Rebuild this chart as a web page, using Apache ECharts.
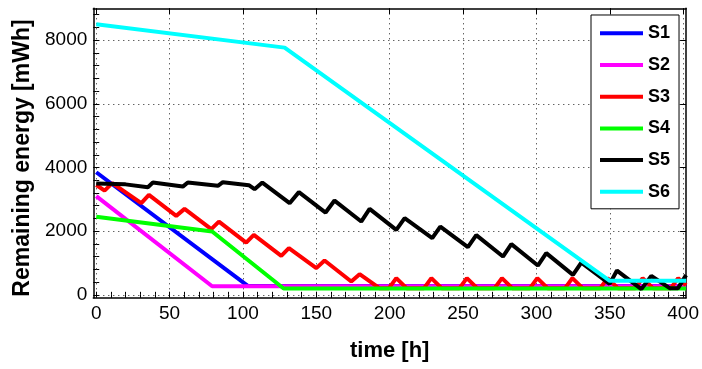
<!DOCTYPE html>
<html><head><meta charset="utf-8">
<script src="https://cdn.jsdelivr.net/npm/echarts@6/dist/echarts.min.js"></script>
<style>html,body{margin:0;padding:0;background:#fff}#c{width:702px;height:369px}</style>
</head><body><div id="c"></div>
<script>
const FONT = "'Liberation Sans', Arial, sans-serif";
const xTicks = [0, 50, 100, 150, 200, 250, 300, 350, 400];
const yTicks = [0, 2000, 4000, 6000, 8000];
const seriesNames = ['S1', 'S2', 'S3', 'S4', 'S5', 'S6'];
const seriesColors = ['#0000ff', '#ff00ff', '#ff0000', '#00ff00', '#000000', '#00ffff'];

const s1 = [[0, 3850], [103.3, 280], [402, 280]];
const s2 = [[0, 3100], [79, 270], [402, 270]];
const s3 = [[0, 3450], [5.7, 3275], [10.9, 3507], [30.7, 2879], [35.9, 3140], [54.5, 2480], [60.2, 2700],
  [78.4, 2063], [83.6, 2302], [102.2, 1642], [107.4, 1884], [126.1, 1225], [131.3, 1466], [150, 838],
  [155.6, 1077], [173.8, 418], [179.5, 650], [193, 210], [199.5, 210], [204.5, 524], [211.5, 210],
  [223.4, 210], [228.4, 524], [235.4, 210], [247.6, 210], [252.6, 524], [259.6, 210], [271.5, 210],
  [276.5, 524], [283.5, 210], [295.6, 210], [300.6, 524], [307.6, 210], [319.5, 210], [324.5, 524],
  [331.5, 210], [343.5, 210], [348.5, 524], [355.5, 210], [367.4, 210], [372.4, 524], [379.4, 210],
  [391.6, 210], [396.6, 524], [402, 300]];
const s4 = [[0, 2450], [79, 1990], [127.7, 200], [402, 200]];
const s5 = [[0, 3500], [20, 3470], [35.2, 3382], [38.6, 3526], [59, 3400], [62.4, 3530], [82.9, 3423],
  [86.3, 3538], [104, 3444], [107.9, 3318], [113.2, 3526], [131.8, 2879], [138.1, 3225], [156.3, 2584],
  [162.4, 2961], [180.6, 2302], [186.3, 2700], [204.5, 2041], [210.2, 2408], [229, 1780], [234.5, 2145],
  [253.3, 1498], [259, 1875], [277.2, 1203], [282.9, 1592], [301, 920], [306.7, 1309], [324.9, 628],
  [330.6, 1014], [349.9, 345], [354.9, 763], [371.5, 179], [378.3, 597], [390.8, 210], [396.5, 210],
  [402, 620]];
const s6 = [[0, 8500], [128.4, 7765], [350, 440], [402, 440]];
const seriesData = [s1, s2, s3, s4, s5, s6];

const xMin = -2, xMax = 402, yMin = -90, yMax = 9000;
const xMinor = [], yMinor = [];
for (let i = 0; i < xTicks.length - 1; i++) for (let k = 1; k < 5; k++) xMinor.push(xTicks[i] + k * 10);
for (let i = 0; i < yTicks.length; i++) for (let k = 1; k < 5; k++) { const v = yTicks[i] + k * 400; if (v < yMax) yMinor.push(v); }

const plain = v => String(v);
const axisLine = { show: true, onZero: false, lineStyle: { color: '#000', width: 1.5 } };
function xAx(pos, ticks, len, main) {
  return {
    type: 'value', min: xMin, max: xMax, position: pos,
    axisLine: main ? axisLine : { show: false },
    axisTick: { show: true, inside: true, length: len, customValues: ticks, lineStyle: { color: '#000', width: 1 } },
    axisLabel: main && pos === 'bottom' ? { show: true, customValues: xTicks, formatter: plain, margin: 7, fontSize: 19, color: '#000', fontFamily: FONT } : { show: false },
    splitLine: main && pos === 'bottom' ? { show: true, lineStyle: { type: [1, 4], color: '#222', width: 1 } } : { show: false },
    name: main && pos === 'bottom' ? 'time [h]' : '',
    nameLocation: 'middle', nameGap: 42,
    nameTextStyle: { fontWeight: 'bold', fontSize: 22, color: '#000', fontFamily: FONT }
  };
}
function yAx(pos, ticks, len, main) {
  return {
    type: 'value', min: yMin, max: yMax, position: pos,
    axisLine: main ? axisLine : { show: false },
    axisTick: { show: true, inside: true, length: len, customValues: ticks, lineStyle: { color: '#000', width: 1 } },
    axisLabel: main && pos === 'left' ? { show: true, customValues: yTicks, formatter: plain, margin: 6, fontSize: 19, color: '#000', fontFamily: FONT } : { show: false },
    splitLine: main && pos === 'left' ? { show: true, lineStyle: { type: [1, 4], color: '#222', width: 1 } } : { show: false },
    name: main && pos === 'left' ? 'Remaining energy [mWh]' : '',
    nameLocation: 'middle', nameGap: 53,
    nameTextStyle: { fontWeight: 'bold', fontSize: 23, color: '#000', fontFamily: FONT, padding: [0, 10, 0, 0] }
  };
}

const chart = echarts.init(document.getElementById('c'), null, { renderer: 'canvas' });
chart.setOption({
  animation: false,
  backgroundColor: '#fff',
  grid: { left: 93.3, right: 13.7, top: 8.3, bottom: 71.3, containLabel: false },
  xAxis: [xAx('bottom', xTicks, 6, true), xAx('top', xTicks, 6, true), xAx('bottom', xMinor, 3, false), xAx('top', xMinor, 3, false)],
  yAxis: [yAx('left', yTicks, 6, true), yAx('right', yTicks, 6, true), yAx('left', yMinor, 3, false), yAx('right', yMinor, 3, false)],
  legend: {
    data: seriesNames, orient: 'vertical', left: 591, top: 15,
    icon: 'rect', itemWidth: 43, itemHeight: 4, itemGap: 11.7,
    padding: [8.3, 9, 7, 9],
    borderColor: '#000', borderWidth: 1, borderRadius: 0, backgroundColor: '#fff',
    textStyle: { fontSize: 18, fontWeight: 'bold', color: '#000', fontFamily: FONT, lineHeight: 20 },
    z: 10
  },
  series: seriesNames.map((n, i) => ({
    name: n, type: 'line', data: seriesData[i], xAxisIndex: 0, yAxisIndex: 0,
    symbol: 'none', showSymbol: false, clip: true,
    color: seriesColors[i],
    lineStyle: { color: seriesColors[i], width: 4 }
  }))
});
</script></body></html>
